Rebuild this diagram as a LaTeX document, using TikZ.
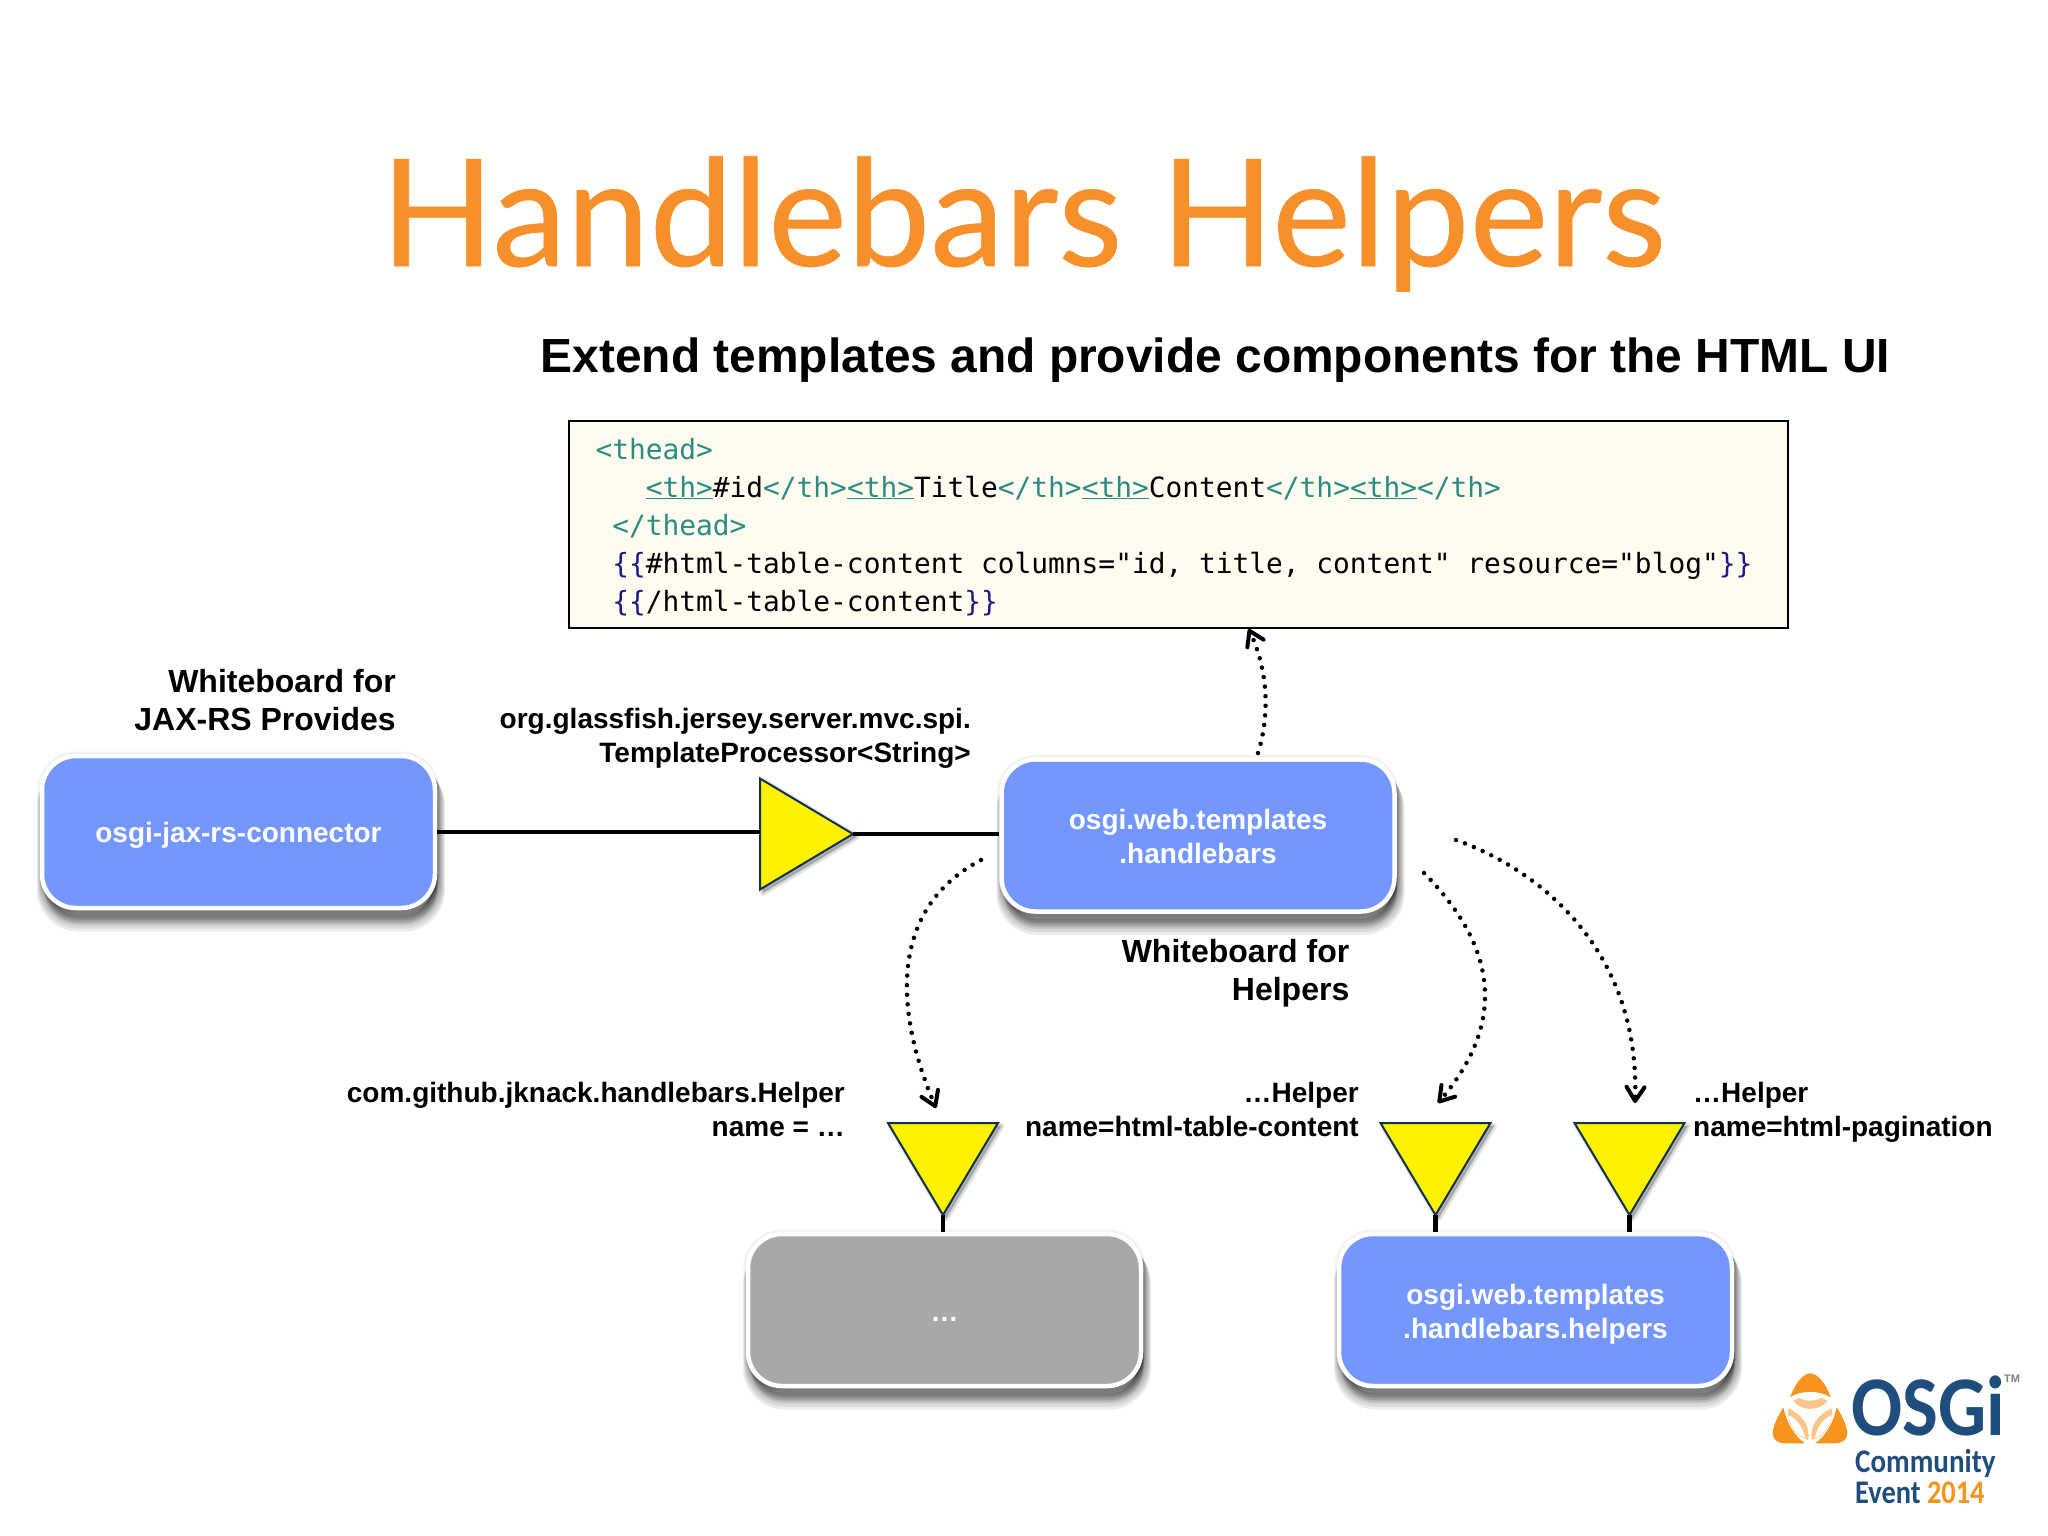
\documentclass[tikz,border=0pt]{standalone}
\usepackage{fontspec}
\usetikzlibrary{arrows.meta,shapes.geometric}
\setmainfont{Liberation Sans}
\newfontfamily\titlef[FakeBold=0.4]{Lato}
\newfontfamily\codef{DejaVu Sans Mono}
\newfontfamily\logof[FakeStretch=0.89]{Carlito}
\newfontfamily\logofb[FakeStretch=0.88]{Carlito}
\newfontfamily\logofc[FakeStretch=0.86]{Carlito}
\definecolor{titleorange}{HTML}{F7902A}
\definecolor{boxblue}{HTML}{7397FF}
\definecolor{boxgray}{HTML}{A6A8AA}
\definecolor{tagc}{HTML}{2A8C85}
\definecolor{bracec}{HTML}{1A1A8C}
\definecolor{codebg}{HTML}{FFFBEE}
\definecolor{triy}{HTML}{FFF200}
\definecolor{triedge}{HTML}{103050}
\definecolor{logoblue}{HTML}{1F4E7E}
\definecolor{logoorange}{HTML}{F7941E}
\definecolor{logolight}{HTML}{F9C68A}
\newcommand\tagt[1]{\textcolor{tagc}{#1}}
\newcommand\tagu[1]{\textcolor{tagc}{\underline{#1}}}
\newcommand\brc[1]{\textcolor{bracec}{#1}}
\newcommand\lead[1]{\hspace*{#1\dimexpr 16.77pt\relax}}
\tikzset{
  shadowlayer/.style 2 args={preaction={fill=black,draw=black,line width=#1,opacity=.075,transform canvas={shift={(2.5pt,-#2)}}}},
  softshadow/.style={
    preaction={fill=black,draw=black,line width=9pt,opacity=.05,transform canvas={shift={(0pt,0pt)}}},
    shadowlayer={15pt}{16pt},shadowlayer={13pt}{14pt},shadowlayer={11pt}{12pt},shadowlayer={9pt}{10pt},shadowlayer={7pt}{8pt},
    shadowlayer={5pt}{6pt},shadowlayer={3pt}{4pt},shadowlayer={1pt}{2pt}},
  module/.style={softshadow,rounded corners=34pt,draw=white,line width=4.5pt,minimum width=393pt,minimum height=152pt,
    inner sep=0pt,text=white,align=center,font=\fontsize{28}{34}\selectfont\bfseries},
  trilayer/.style={preaction={fill=black,draw=black,line join=round,line width=#1,opacity=.08,transform canvas={shift={(3pt,-3pt)}}}},
  svc/.style={isosceles triangle,isosceles triangle stretches,trilayer=7pt,trilayer=4pt,trilayer=1pt,fill=triy,draw=triedge,line width=2pt,inner sep=0pt,outer sep=0pt},
  svcright/.style={svc,shape border rotate=0,minimum width=111pt,minimum height=93pt,anchor=apex},
  svcdown/.style={svc,shape border rotate=270,minimum width=110pt,minimum height=92pt,anchor=apex},
  wire/.style={line width=4.5pt,black},
  dotarrow/.style={line width=4.5pt,dash pattern=on 0pt off 9.6pt,line cap=round,black,
    -{Straight Barb[length=14pt,width=18pt,line width=4pt,round]}},
  biglabel/.style={anchor=base east,align=right,inner sep=0pt,font=\fontsize{32}{38}\selectfont\bfseries},
  smalllabel/.style={anchor=base east,align=right,inner sep=0pt,font=\fontsize{28}{34}\selectfont\bfseries},
}
\begin{document}
\begin{tikzpicture}[x=1pt,y=-1pt]
\useasboundingbox (0,0) rectangle (2048,1536);
\fill[white] (0,0) rectangle (2048,1536);

\node[anchor=base,text=titleorange,inner sep=0pt,font=\fontsize{149}{160}\selectfont\titlef] (title) at (1023.5,266) {Handlebars Helpers};
\node[anchor=base west,inner sep=0pt,font=\fontsize{47.9}{56}\selectfont\bfseries] (subtitle) at (540.5,372) {Extend templates and provide components for the HTML UI};

\node[anchor=north west,draw=black,line width=2pt,fill=codebg,minimum height=207pt,text width=1166pt,inner xsep=26.5pt,inner ysep=0pt,
  align=left,font=\fontsize{27.85}{38}\selectfont\codef] (code) at (568,420) {%
\spaceskip=16.77pt\relax\xspaceskip=16.77pt\relax
\rule{0pt}{26pt}\tagt{<thead>}\\
\lead{3}\tagu{<th>}\#id\tagt{</th>}\tagu{<th>}Title\tagt{</th>}\tagu{<th>}Content\tagt{</th>}\tagu{<th>}\tagt{</th>}\\
\lead{1}\tagt{</thead>}\\
\lead{1}\brc{\{\{}\#html-table-content columns="id, title, content" resource="blog"\brc{\}\}}\\
\lead{1}\brc{\{\{}/html-table-content\brc{\}\}}};

\node[module,fill=boxblue] (jaxrs) at (238.5,832) {\rule{0pt}{26.4pt}osgi-jax-rs-connector};
\node[module,fill=boxblue] (hb) at (1198,835.5) {\rule{0pt}{23pt}osgi.web.templates\\.handlebars};
\node[module,fill=boxgray] (other) at (944.5,1310) {\rule{0pt}{22pt}…};
\node[module,fill=boxblue] (helpers) at (1535.5,1310) {\rule{0pt}{28.4pt}osgi.web.templates\\.handlebars.helpers};

\node[svcright] (t1) at (853,834) {};
\node[svcdown] (t2) at (943,1215) {};
\node[svcdown] (t3) at (1435.5,1215) {};
\node[svcdown] (t4) at (1629.5,1215) {};

\draw[wire] (jaxrs.east) -- (t1.west |- jaxrs.east);
\draw[wire] (t1.apex) -- (hb.west |- t1.apex);
\draw[wire] (t2.apex) -- (t2.apex |- other.north);
\draw[wire] (t3.apex) -- (t3.apex |- helpers.north);
\draw[wire] (t4.apex) -- (t4.apex |- helpers.north);

\coordinate (a1s) at (1258,753);
\coordinate (a1e) at (1248.6,629);
\coordinate (a2s) at (981,860);
\coordinate (a2e) at (936,1108);
\coordinate (a3s) at (1424,873);
\coordinate (a3e) at (1438,1103);
\coordinate (a4s) at (1456,840);
\coordinate (a4e) at (1635,1103);
\draw[dotarrow] (a1s) .. controls (1270,715) and (1268,670) .. (a1e);
\draw[dotarrow] (a2s) .. controls (895,905) and (890,1000) .. (a2e);
\draw[dotarrow] (a3s) .. controls (1505,955) and (1500,1030) .. (a3e);
\draw[dotarrow] (a4s) .. controls (1540,870) and (1640,950) .. (a4e);

\node[biglabel] (l1) at (396,730.7) {Whiteboard for\\JAX-RS Provides};
\node[smalllabel] (l2) at (971,762.3) {org.glassfish.jersey.server.mvc.spi.\\TemplateProcessor<String>};
\node[biglabel] (l3) at (1349.5,1000.7) {Whiteboard for\\Helpers};
\node[smalllabel] (l4) at (845,1136) {com.github.jknack.handlebars.Helper\\name = …};
\node[smalllabel] (l5) at (1359,1136) {…Helper\\name=html-table-content};
\node[smalllabel,anchor=base west,align=left] (l6) at (1693,1136) {…Helper\\name=html-pagination};

\begin{scope}[shift={(1740,1340)},x=.3333pt,y=-.3333pt]
  \fill[logoorange] (150,172) .. controls (165,130) and (190,100) .. (210,100) .. controls (232,100) and (258,130) .. (272,172) .. controls (240,150) and (180,150) .. cycle;
  \fill[logolight] (160,182) .. controls (190,165) and (230,165) .. (262,182) .. controls (240,215) and (180,215) .. cycle;
  \fill[white] (175,172) .. controls (195,160) and (225,160) .. (245,172) .. controls (225,185) and (195,185) .. cycle;
  \fill[logoorange] (130,202) .. controls (115,225) and (98,260) .. (98,280) .. controls (98,300) and (115,310) .. (135,310) -- (195,310) .. controls (165,290) and (140,250) .. cycle;
  \fill[logolight] (145,205) .. controls (190,225) and (210,260) .. (205,300) .. controls (165,290) and (140,250) .. cycle;
  \fill[white] (145,225) .. controls (175,240) and (190,265) .. (195,295) .. controls (165,280) and (150,255) .. cycle;
  \fill[logoorange] (290,202) .. controls (305,225) and (322,260) .. (322,280) .. controls (322,300) and (305,310) .. (285,310) -- (225,310) .. controls (255,290) and (280,250) .. cycle;
  \fill[logolight] (275,205) .. controls (230,225) and (210,260) .. (215,300) .. controls (255,290) and (280,250) .. cycle;
  \fill[white] (275,225) .. controls (245,240) and (230,265) .. (225,295) .. controls (255,280) and (270,255) .. cycle;
\end{scope}
\node[anchor=base west,inner sep=0pt,text=logoblue,font=\fontsize{85}{86}\selectfont\logof\bfseries] (osgi) at (1851,1435) {OSGi};
\node[anchor=base west,inner sep=0pt,text=logoblue,font=\fontsize{33}{36}\selectfont\logofb\bfseries] (comm) at (1855,1472) {Community};
\node[anchor=base west,inner sep=0pt,text=logoblue,font=\fontsize{33}{36}\selectfont\logofc\bfseries] (event) at (1855,1503) {Event \textcolor{logoorange}{2014}};
\node[anchor=base west,inner sep=0pt,text=gray,font=\fontsize{11}{12}\selectfont\bfseries] (tm) at (2004,1382) {TM};
\end{tikzpicture}
\end{document}
